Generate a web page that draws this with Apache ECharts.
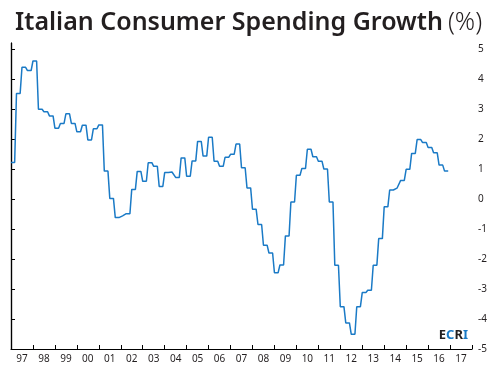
<!DOCTYPE html>
<html>
<head>
<meta charset="utf-8">
<script src="https://cdn.jsdelivr.net/npm/echarts@6/dist/echarts.min.js"></script>
<style>
  html, body { margin: 0; padding: 0; background: #fff; }
  #chart { width: 495px; height: 375px; }
</style>
</head>
<body>
<div id="chart"></div>
<script>
// quarterly growth (%), 1997Q1 .. 2016Q4
const quarterly = [
  1.22, 3.52, 4.39, 4.28,   // 97
  4.60, 2.99, 2.91, 2.77,   // 98
  2.36, 2.52, 2.84, 2.52,   // 99
  2.24, 2.46, 1.97, 2.34,   // 00
  2.47, 0.93, 0.02, -0.62,  // 01
  -0.56, -0.49, 0.32, 0.92, // 02
  0.59, 1.21, 1.09, 0.42,   // 03
  0.88, 0.90, 0.72, 1.37,   // 04
  0.76, 1.27, 1.92, 1.43,   // 05
  2.06, 1.26, 1.09, 1.39,   // 06
  1.49, 1.83, 1.04, 0.37,   // 07
  -0.34, -0.85, -1.54, -1.80, // 08
  -2.46, -2.20, -1.23, -0.10, // 09
  0.79, 1.02, 1.66, 1.41,   // 10
  1.26, 1.00, -0.10, -2.21, // 11
  -3.59, -4.13, -4.51, -3.59, // 12
  -3.12, -3.04, -2.21, -1.32, // 13
  -0.26, 0.30, 0.36, 0.62,  // 14
  0.99, 1.52, 1.98, 1.88,   // 15
  1.72, 1.54, 1.13, 0.93    // 16
];
const yearLabels = ['97', '98', '99', '00', '01', '02', '03', '04', '05', '06', '07',
  '08', '09', '10', '11', '12', '13', '14', '15', '16', '17'];
const yTicks = [-5, -4, -3, -2, -1, 0, 1, 2, 3, 4, 5];

// x is months since Jan 1997; each quarterly value covers its three months
const lineData = [];
quarterly.forEach((v, q) => {
  for (let m = 0; m < 3; m++) lineData.push([q * 3 + m, v]);
});

const chart = echarts.init(document.getElementById('chart'));
const font = '"Noto Sans", sans-serif';

chart.setOption({
  animation: false,
  title: {
    left: 10,
    top: 5,
    text: '{b|Italian Consumer Spending Growth} {n|(%)}',
    textStyle: {
      rich: {
        b: { fontFamily: font, fontSize: 25, fontWeight: 600, color: '#231f20' },
        n: { fontFamily: font, fontSize: 25, fontWeight: 300, color: '#231f20' }
      }
    }
  },
  grid: { left: 11, right: 23, top: 43, bottom: 26 },
  xAxis: {
    type: 'value',
    min: 0,
    max: 252,
    interval: 12,
    splitLine: { show: false },
    axisLine: { onZero: false, lineStyle: { color: '#000', width: 1.2 } },
    axisTick: { inside: true, length: 4, lineStyle: { color: '#000' } },
    axisLabel: {
      customValues: yearLabels.map((_, i) => i * 12 + 6),
      formatter: (v) => yearLabels[(v - 6) / 12],
      margin: 5,
      fontFamily: font,
      fontSize: 10,
      color: '#231f20'
    }
  },
  yAxis: [{
    type: 'value',
    position: 'right',
    min: -5,
    max: 5.2,
    interval: 1,
    splitLine: { show: false },
    axisLine: { show: true, lineStyle: { color: '#000', width: 1.2 } },
    axisTick: { show: true, length: 4, customValues: yTicks, lineStyle: { color: '#000' } },
    axisLabel: {
      customValues: yTicks,
      margin: 6,
      fontFamily: font,
      fontSize: 10,
      color: '#231f20'
    }
  }, {
    type: 'value',
    position: 'left',
    min: -5,
    max: 5.2,
    splitLine: { show: false },
    axisLine: { show: true, lineStyle: { color: '#000', width: 1.2 } },
    axisTick: { show: false },
    axisLabel: { show: false }
  }],
  graphic: [{
    type: 'text',
    right: 27,
    bottom: 33,
    style: {
      text: '{d|E}{c|C}{d|R}{c|I}',
      rich: {
        d: { fontFamily: font, fontSize: 13, fontWeight: 'bold', fill: '#231f20' },
        c: { fontFamily: font, fontSize: 13, fontWeight: 'bold', fill: '#1a7ac6' }
      }
    }
  }],
  series: [{
    type: 'line',
    data: lineData,
    showSymbol: false,
    lineStyle: { color: '#1a7ac6', width: 1.5 },
    z: 3
  }]
});
</script>
</body>
</html>
